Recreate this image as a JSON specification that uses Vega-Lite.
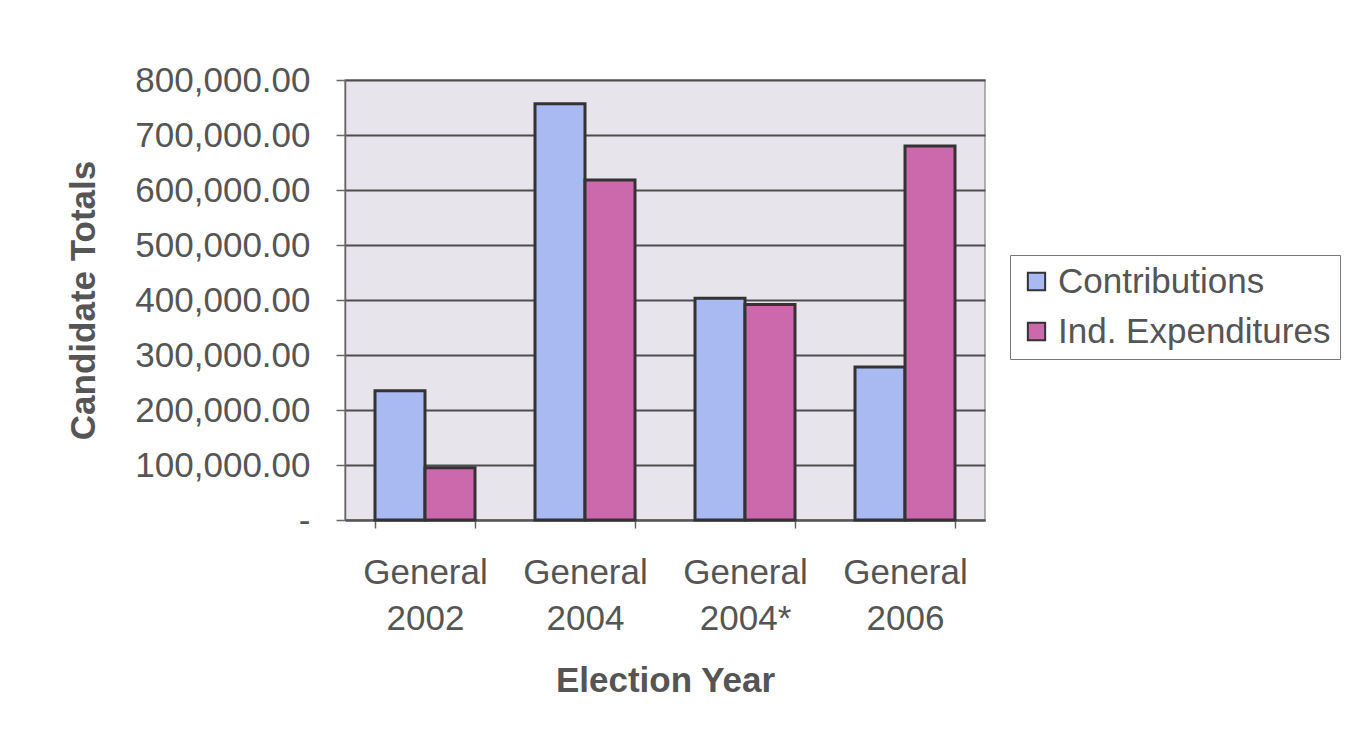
{
  "$schema": "https://vega.github.io/schema/vega-lite/v6.json",
  "width": 640,
  "height": 440,
  "autosize": {"type": "none"},
  "padding": {"left": 345, "top": 80, "right": 370, "bottom": 232},
  "background": "#ffffff",
  "data": {
    "values": [
      {"year": "General 2002", "series": "Contributions", "amount": 235000},
      {"year": "General 2002", "series": "Ind. Expenditures", "amount": 95000},
      {"year": "General 2004", "series": "Contributions", "amount": 757000},
      {"year": "General 2004", "series": "Ind. Expenditures", "amount": 618000},
      {"year": "General 2004*", "series": "Contributions", "amount": 403000},
      {"year": "General 2004*", "series": "Ind. Expenditures", "amount": 392000},
      {"year": "General 2006", "series": "Contributions", "amount": 278000},
      {"year": "General 2006", "series": "Ind. Expenditures", "amount": 680000}
    ]
  },
  "mark": {"type": "bar", "stroke": "#333333", "strokeWidth": 3},
  "encoding": {
    "x": {
      "field": "year",
      "type": "nominal",
      "sort": null,
      "scale": {"paddingInner": 0.375, "paddingOuter": 0.1875},
      "axis": {
        "title": "Election Year",
        "labelAngle": 0,
        "labelExpr": "split(datum.label, ' ')",
        "labelLineHeight": 46,
        "labelFont": "Liberation Sans",
        "labelFontSize": 35,
        "labelColor": "#555555",
        "labelPadding": 27,
        "tickBand": "extent",
        "tickSize": 8,
        "tickColor": "#666666",
        "tickWidth": 1.5,
        "domainColor": "#555555",
        "domainWidth": 2,
        "titleFont": "Liberation Sans",
        "titleFontSize": 35,
        "titleFontWeight": "bold",
        "titleColor": "#555555",
        "titlePadding": 27
      }
    },
    "xOffset": {"field": "series", "type": "nominal", "scale": {"paddingInner": 0, "paddingOuter": 0}},
    "y": {
      "field": "amount",
      "type": "quantitative",
      "scale": {"domain": [0, 800000], "nice": false},
      "axis": {
        "title": "Candidate Totals",
        "values": [0, 100000, 200000, 300000, 400000, 500000, 600000, 700000, 800000],
        "labelExpr": "datum.value == 0 ? '-' : format(datum.value, ',.2f')",
        "encode": {"labels": {"update": {"dx": {"signal": "datum.value == 0 ? -44 : 0"}}}},
        "labelFont": "Liberation Sans",
        "labelFontSize": 35,
        "labelColor": "#555555",
        "labelPadding": 26,
        "tickSize": 9,
        "tickColor": "#666666",
        "tickWidth": 1.5,
        "domainColor": "#666666",
        "domainWidth": 1.5,
        "grid": true,
        "gridColor": "#4d4d4d",
        "gridWidth": 1.8,
        "titleFont": "Liberation Sans",
        "titleFontSize": 35,
        "titleFontWeight": "bold",
        "titleColor": "#555555",
        "titlePadding": 44
      }
    },
    "color": {
      "field": "series",
      "type": "nominal",
      "scale": {"domain": ["Contributions", "Ind. Expenditures"], "range": ["#a9b9f2", "#cc68ac"]},
      "legend": {
        "title": null,
        "orient": "none",
        "legendX": 665,
        "legendY": 175,
        "symbolType": "square",
        "symbolSize": 300,
        "symbolStrokeColor": "#333333",
        "symbolStrokeWidth": 2,
        "labelFont": "Liberation Sans",
        "labelFontSize": 35,
        "labelColor": "#555555",
        "labelLimit": 400,
        "rowPadding": 14,
        "padding": 9,
        "strokeColor": "#777777",
        "fillColor": "#ffffff"
      }
    }
  },
  "config": {
    "view": {"fill": "#e7e4ec", "stroke": "#999999", "strokeWidth": 1.5}
  }
}
